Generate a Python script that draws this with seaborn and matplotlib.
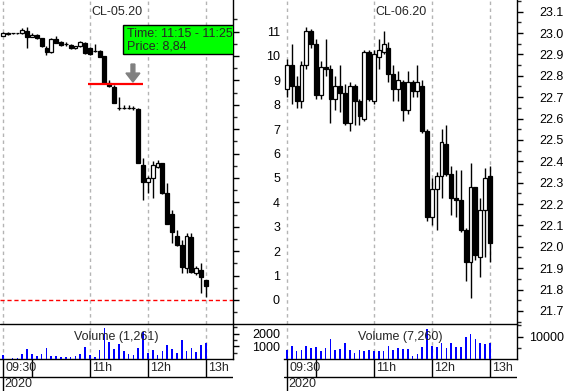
import numpy as np
import pandas as pd
import matplotlib
matplotlib.use("Agg")
import matplotlib.pyplot as plt
import seaborn as sns
from matplotlib.patches import Rectangle, FancyArrow
from matplotlib.lines import Line2D

# 5-minute bars, 09:30 -> 13:00
bar_times = pd.date_range("2020-04-20 09:30", periods=43, freq="5min").strftime("%H:%M").tolist()

# CL-05.20
may_open = [10.83, 10.92, 10.93, 10.94, 10.93, 11.04, 10.78, 10.88, 10.72, 10.34, 10.15, 10.68, 10.56, 10.49,
            10.45, 10.31, 10.42, 10.55, 10.34, 10.20, 10.22, 10.00, 8.88, 8.74, 7.87, 7.86, 7.87, 7.86,
            7.83, 5.53, 4.82, 4.99, 5.46, 5.60, 4.37, 3.51, 2.62, 2.25, 1.33, 2.59, 1.12, 1.23, 0.82]
may_high = [10.97, 10.99, 10.95, 10.96, 11.15, 11.18, 10.95, 10.92, 10.75, 10.40, 10.72, 10.80, 10.60, 10.58,
            10.48, 10.43, 10.60, 10.58, 10.38, 10.50, 10.25, 10.02, 9.02, 8.80, 8.33, 8.00, 7.98, 7.95,
            7.86, 5.80, 5.10, 5.70, 5.74, 5.63, 4.78, 3.69, 2.87, 2.47, 2.73, 2.73, 1.40, 1.50, 0.84]
may_low = [10.80, 10.88, 10.92, 10.92, 10.92, 10.34, 10.76, 10.70, 10.38, 10.05, 10.12, 10.52, 10.42, 10.42,
           10.28, 10.28, 10.38, 10.10, 10.05, 10.17, 9.95, 8.86, 8.75, 8.07, 7.80, 7.82, 7.83, 7.80,
           5.60, 4.10, 4.37, 4.19, 5.40, 4.33, 3.10, 2.35, 2.20, 1.12, 1.12, 1.10, 1.02, 0.27, 0.11]
may_close = [10.95, 10.93, 10.94, 10.93, 11.05, 10.79, 10.87, 10.73, 10.40, 10.15, 10.68, 10.55, 10.45, 10.50,
             10.31, 10.41, 10.56, 10.11, 10.08, 10.22, 9.97, 8.88, 8.77, 8.09, 7.85, 7.87, 7.86, 7.87,
             5.63, 4.85, 5.01, 5.53, 5.63, 4.37, 3.11, 2.80, 2.25, 1.36, 2.62, 1.16, 1.30, 0.93, 0.57]
may_volume = [340, 0, 105, 105, 395, 790, 395, 235, 395, 870, 265, 235, 160, 160, 160, 210, 395, 950,
              340, 185, 710, 2475, 1345, 815, 1185, 630, 395, 340, 870, 2130, 475, 710, 315, 630,
              1105, 790, 475, 1500, 630, 870, 555, 1105, 1261]

# CL-06.20
jun_open = [22.74, 22.85, 22.75, 22.68, 22.85, 23.01, 22.95, 22.71, 22.84, 22.83, 22.69, 22.75, 22.72, 22.58,
            22.75, 22.68, 22.60, 22.91, 22.68, 22.89, 22.91, 22.93, 22.81, 22.74, 22.77, 22.64, 22.77, 22.73,
            22.75, 22.54, 22.14, 22.27, 22.33, 22.48, 22.34, 22.23, 22.22, 22.08, 21.93, 22.28, 21.95, 22.17, 22.33]
jun_high = [22.88, 22.95, 22.80, 22.87, 23.03, 23.02, 22.97, 22.87, 22.97, 22.85, 22.80, 22.85, 22.76, 22.77,
            22.76, 22.69, 22.92, 22.92, 22.92, 22.97, 23.01, 22.96, 22.85, 22.82, 22.78, 22.82, 22.78, 22.85,
            22.78, 22.55, 22.32, 22.35, 22.55, 22.57, 22.38, 22.36, 22.36, 22.09, 22.39, 22.28, 22.23, 22.37, 22.38]
jun_low = [22.70, 22.67, 22.65, 22.65, 22.83, 22.93, 22.69, 22.69, 22.80, 22.58, 22.64, 22.63, 22.57, 22.54,
           22.57, 22.57, 22.59, 22.68, 22.67, 22.83, 22.90, 22.77, 22.68, 22.68, 22.59, 22.62, 22.70, 22.70,
           22.53, 22.12, 22.10, 22.08, 22.23, 22.33, 22.15, 22.14, 22.07, 21.84, 21.76, 21.94, 21.86, 21.95, 21.93]
jun_close = [22.85, 22.75, 22.68, 22.85, 23.01, 22.95, 22.71, 22.84, 22.83, 22.69, 22.75, 22.72, 22.58, 22.75,
             22.68, 22.61, 22.91, 22.69, 22.90, 22.92, 22.95, 22.81, 22.74, 22.78, 22.64, 22.77, 22.73, 22.77,
             22.54, 22.14, 22.27, 22.33, 22.49, 22.34, 22.23, 22.22, 22.08, 21.93, 22.28, 21.96, 22.17, 22.32, 22.02]
jun_volume = [4150, 5790, 3710, 4150, 5790, 5040, 5340, 3710, 5040, 8900, 4150, 4600, 7120, 4000, 2670,
              4000, 3710, 4000, 3710, 3710, 3710, 5790, 4000, 4900, 4600, 4300, 1480, 2220, 5340, 13500,
              5790, 5490, 7120, 5040, 7120, 5490, 5490, 9790, 11130, 8900, 7270, 6680, 7260]

tick_times = ["09:30", "10:00", "11:00", "12:00", "13:00"]
tick_names = ["09:30", "", "11h", "12h", "13h"]
grid_times = ["09:30", "11:00", "12:00", "13:00"]
year_label = "2020"

# selected bar info
sel_price = 8.84
sel_text = "Time: 11:15 - 11:25\nPrice: 8,84"
sel_from, sel_to = "11:00", "11:55"
arrow_time = "11:45"

W, H = 568, 391
PX = 4.83  # pixels per bar


def px_box(x, y, w, h):
    return [x / W, 1 - (y + h) / H, w / W, h / H]


def draw_candles(ax, o, h, l, c):
    xs = np.arange(len(o))
    o, h, l, c = map(np.asarray, (o, h, l, c))
    ax.vlines(xs, l, h, color="black", lw=1, zorder=3)
    up = c >= o
    bottoms = np.minimum(o, c)
    heights = np.abs(c - o)
    ax.bar(xs, heights, bottom=bottoms, width=0.8,
           color=np.where(up, "white", "black"), edgecolor="black", linewidth=0.9, zorder=4)


def style_right_axis(ax, labelpad=29.5):
    ax.yaxis.tick_right()
    ax.tick_params(axis="y", which="major", length=6 * 0.72, width=1, pad=labelpad,
                   labelsize=9, colors="black")
    ax.tick_params(axis="y", which="minor", length=4 * 0.72, width=1)
    plt.setp(ax.yaxis.get_majorticklabels(), ha="right")
    ax.tick_params(axis="x", which="both", bottom=False, labelbottom=False)


def draw_panel(fig, x0, title, o, h, l, c, vol, vol_label, ylim, majors, minors, fmt,
               vol_max, vol_majors, vol_minors):
    xs = np.arange(len(o))
    xlim = (-3 / PX, 230 / PX)
    grid_idx = [bar_times.index(t) for t in grid_times]
    tick_idx = [bar_times.index(t) for t in tick_times]

    # price panel
    ax = fig.add_axes(px_box(x0, 0, 233, 324))
    for x in grid_idx:
        ax.axvline(x, color="#b4b4b4", lw=1, ls=(0, (2.5, 2.5)), zorder=1)
    draw_candles(ax, o, h, l, c)
    ax.set_xlim(xlim)
    ax.set_ylim(ylim)
    ax.set_yticks(majors)
    ax.set_yticks(minors, minor=True)
    ax.set_yticklabels([fmt.format(v) for v in majors])
    style_right_axis(ax)
    for s in ("left", "top", "bottom"):
        ax.spines[s].set_visible(False)
    ax.spines["right"].set_color("black")
    ax.spines["right"].set_linewidth(1)
    ax.text(0.5, 1 - 12 / 324, title, transform=ax.transAxes, ha="center", va="center", fontsize=9)

    # volume panel
    vax = fig.add_axes(px_box(x0, 324, 233, 35))
    for x in grid_idx:
        vax.axvline(x, color="#b4b4b4", lw=1, ls=(0, (2.5, 2.5)), zorder=1)
    sns.barplot(x=xs, y=vol, native_scale=True, width=0.34, color="#0000ff", saturation=1,
                errorbar=None, linewidth=0, ax=vax, zorder=3)
    vax.set_xlim(xlim)
    vax.set_ylim(0, vol_max)
    vax.set_xlabel("")
    vax.set_ylabel("")
    vax.set_yticks(vol_majors)
    vax.set_yticks(vol_minors, minor=True)
    vax.set_yticklabels([str(v) for v in vol_majors])
    style_right_axis(vax)
    for s in ("left", "top"):
        vax.spines[s].set_visible(False)
    for s in ("right", "bottom"):
        vax.spines[s].set_color("black")
        vax.spines[s].set_linewidth(1)
    vax.text(0.5, (359 - 337) / 35, vol_label, ha="center", va="center", fontsize=9,
             transform=vax.transAxes, zorder=5)

    # time axis
    tax = fig.add_axes(px_box(x0, 359, 233, 32))
    tax.set_xlim(xlim)
    tax.set_ylim(0, 1)
    tax.axis("off")
    mid = (391 - 377) / 32
    tax.axhline(mid, color="black", lw=1)
    for x, name in zip(tick_idx, tick_names):
        bottom = 0 if x == 0 else mid
        tax.vlines(x, bottom, 1, color="black", lw=1)
        if name:
            tax.annotate(name, xy=(x, (391 - 368) / 32), xytext=(1.5, 0), textcoords="offset points",
                         ha="left", va="center", fontsize=9)
    tax.annotate(year_label, xy=(0, (391 - 384) / 32), xytext=(0.8, 0), textcoords="offset points",
                 ha="left", va="center", fontsize=9)
    return ax


sns.set_style("white")
plt.rcParams["font.family"] = ["Liberation Sans", "DejaVu Sans"]

fig = plt.figure(figsize=(W / 100, H / 100), dpi=100)

ax_may = draw_panel(fig, 0, "CL-05.20", may_open, may_high, may_low, may_close, may_volume,
                    "Volume (1,261)", (-24 / 24.4, 300 / 24.4), list(range(0, 12)),
                    [v + 0.5 for v in range(-1, 12)], "{:d}", 35 * 79, [1000, 2000], [500, 1500, 2500])

ax_jun = draw_panel(fig, 284, "CL-06.20", jun_open, jun_high, jun_low, jun_close, jun_volume,
                    "Volume (7,260)", (23.0 - 291 / 213.8, 23.0 + 33 / 213.8),
                    [round(21.7 + 0.1 * k, 1) for k in range(15)],
                    [round(21.65 + 0.1 * k, 2) for k in range(16)], "{:.1f}",
                    35 * 445, [10000], [5000, 15000])

# zero line and selected bar marker on the May contract
ax_may.axhline(0, color="red", lw=1, ls=(0, (3, 2)), zorder=2)
x_from = bar_times.index(sel_from) - 0.4
x_to = bar_times.index(sel_to)
ax_may.hlines(sel_price, x_from, x_to, color="#ff0000", lw=1.6, zorder=6)
arrow_x = bar_times.index(arrow_time) - 0.1
ax_may.add_patch(FancyArrow(arrow_x, sel_price + 0.83, 0, -0.74, width=0.8, head_width=2.9,
                            head_length=0.37, length_includes_head=True, color="#808080", zorder=6))

# tooltip box
ax_may.add_patch(Rectangle((123 / 233, 1 - 54 / 324), 0.6, 29 / 324, transform=ax_may.transAxes,
                           facecolor="#00ff00", edgecolor="black", lw=1, zorder=7, clip_on=True))
ax_may.text(127 / 233, 1 - 40 / 324, sel_text, transform=ax_may.transAxes, ha="left", va="center",
            fontsize=9, linespacing=1.05, zorder=8, clip_on=True)

# separator line between price and volume panels
fig.add_artist(Line2D([0, 517 / W], [1 - 324 / H, 1 - 324 / H], color="black", lw=1,
                      transform=fig.transFigure))

fig.savefig("out.png", dpi=100)
